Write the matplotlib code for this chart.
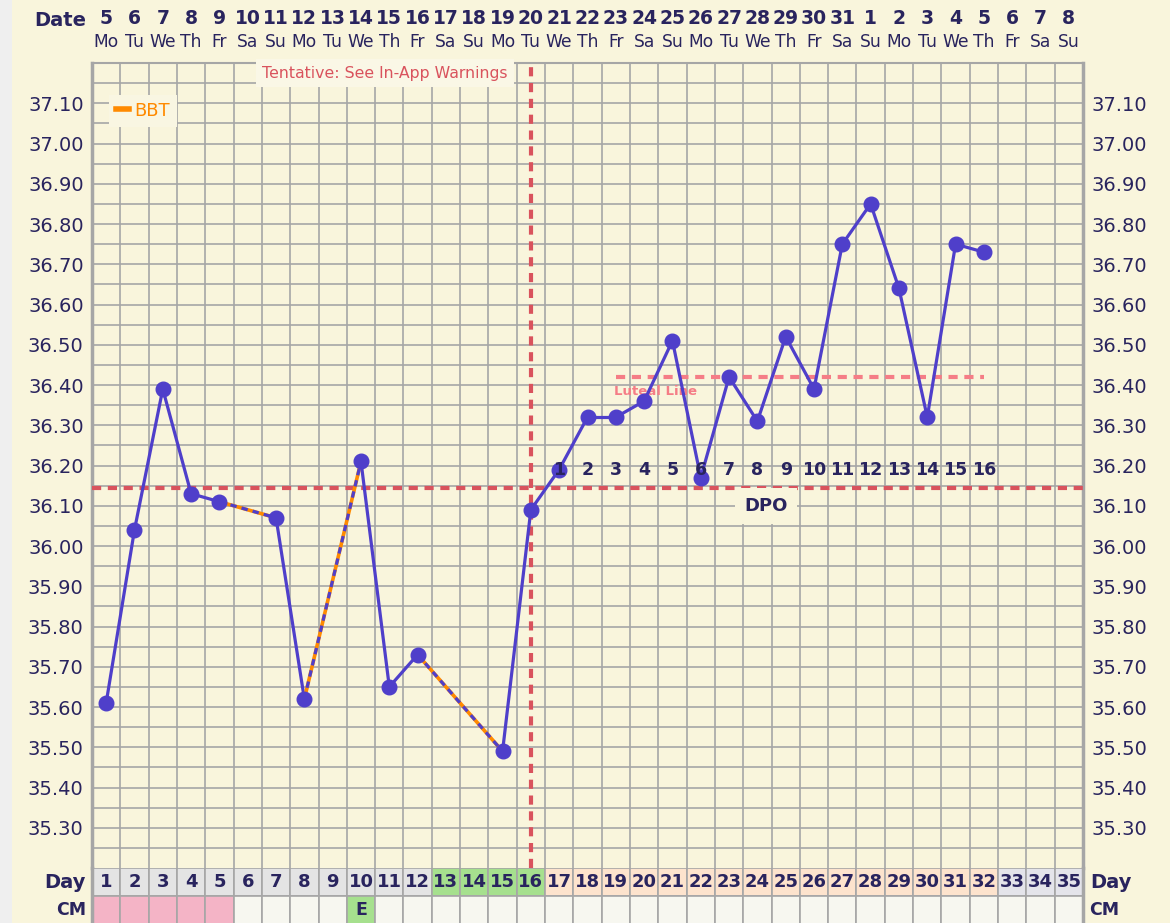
import numpy as np
import matplotlib.pyplot as plt
from matplotlib.patches import Rectangle
from matplotlib.lines import Line2D
from matplotlib.transforms import blended_transform_factory

# chart data
days = list(range(1, 36))
dates = list(range(5, 32)) + list(range(1, 9))
weekdays = ['Mo', 'Tu', 'We', 'Th', 'Fr', 'Sa', 'Su'] * 5

bbt_days = [1, 2, 3, 4, 5, 7, 8, 10, 11, 12, 15, 16, 17, 18, 19, 20, 21, 22,
            23, 24, 25, 26, 27, 28, 29, 30, 31, 32]
bbt_temps = [35.61, 36.04, 36.39, 36.13, 36.11, 36.07, 35.62, 36.21, 35.65, 35.73,
             35.49, 36.09, 36.19, 36.32, 36.32, 36.36, 36.51, 36.17, 36.42, 36.31,
             36.52, 36.39, 36.75, 36.85, 36.64, 36.32, 36.75, 36.73]

coverline = 36.145
ovulation_day = 16
luteal_temp = 36.42
luteal_days = [19, 32]
dpo_days = list(range(17, 33))
dpo_labels = [str(i) for i in range(1, 17)]

y_labels = np.round(np.arange(35.3, 37.11, 0.1), 2)

# day row / cm row colours
day_colors = (['#e4e4e4'] * 12 + ['#a6e08e'] * 4 + ['#fde3cd'] * 16 + ['#e4e4ea'] * 3)
cm_colors = (['#f4b4c6'] * 5 + ['#f7f7f0'] * 4 + ['#a6e08e'] + ['#f7f7f0'] * 25)
cm_text = {10: 'E'}

CREAM = '#f9f5dc'
NAVY = '#29245e'
PURPLE = '#4f3fca'
ORANGE = '#ff8a00'
RED = '#d9535d'
PINK = '#f57d86'
GRID = '#a6a6a6'

fig = plt.figure(figsize=(11.7, 9.23), dpi=100, facecolor=CREAM)
fig.patches.append(Rectangle((0, 0), 12 / 1170, 1, transform=fig.transFigure,
                             facecolor='#efefef', edgecolor='none'))

W, H = 1170, 923
L, R, T, B = 92, 1083, 63, 868
ax = fig.add_axes([L / W, 1 - B / H, (R - L) / W, (B - T) / H])
ax.set_facecolor(CREAM)
ax.set_xlim(0.5, 35.5)
ax.set_ylim(35.2, 37.2)

ax.set_xticks([])
ax.set_xticks(np.arange(0.5, 35.6, 1), minor=True)
ax.set_yticks(y_labels)
ax.set_yticklabels([f'{v:.2f}' for v in y_labels])
ax.set_yticks(np.round(np.arange(35.25, 37.2, 0.1), 2), minor=True)
ax.tick_params(axis='both', which='both', length=0)
ax.tick_params(axis='y', labelleft=True, labelright=True, labelsize=14,
               labelcolor=NAVY, pad=6)
ax.grid(True, which='both', color=GRID, lw=1.2, zorder=0)
ax.set_axisbelow(True)
for s in ['left', 'right']:
    ax.spines[s].set_color(GRID)
    ax.spines[s].set_linewidth(2.5)
ax.spines['top'].set_color(GRID)
ax.spines['top'].set_linewidth(1.5)
ax.spines['bottom'].set_visible(False)

# coverline, ovulation and luteal lines
ax.axhline(coverline, color=RED, lw=3, ls=(0, (2.2, 1.6)), zorder=3)
ax.axvline(ovulation_day, color=RED, lw=3, ls=(0, (2.2, 1.6)), zorder=3)
ax.plot(luteal_days, [luteal_temp] * 2, color=PINK, lw=3, ls=(0, (2.2, 1.6)), zorder=3)
ax.text(luteal_days[0] - 0.05, luteal_temp - 0.035, 'Luteal Line', color=PINK,
        fontsize=9.5, fontweight='bold', ha='left', va='center', zorder=3)

# temperature line
for d0, t0, d1, t1 in zip(bbt_days[:-1], bbt_temps[:-1], bbt_days[1:], bbt_temps[1:]):
    if d1 - d0 == 1:
        ax.plot([d0, d1], [t0, t1], color=PURPLE, lw=2.3, zorder=4, solid_capstyle='round')
    else:
        ax.plot([d0, d1], [t0, t1], color=ORANGE, lw=2.6, zorder=4)
        ax.plot([d0, d1], [t0, t1], color=PURPLE, lw=2.3, ls=(0, (2, 1.6)), zorder=4)
ax.plot(bbt_days, bbt_temps, 'o', ms=10.5, color=PURPLE, mec=PURPLE, zorder=5)

# DPO numbers
for d, lab in zip(dpo_days, dpo_labels):
    ax.text(d, 36.19, lab, color=NAVY, fontsize=12.5, fontweight='bold',
            ha='center', va='center', zorder=6)
ax.text(24.3, 36.1, 'DPO', color=NAVY, fontsize=13, fontweight='bold',
        ha='center', va='center', zorder=6,
        bbox=dict(boxstyle='square,pad=0.5', facecolor=CREAM, edgecolor='none'))

# tentative note
ax.text(10.85, 0.9875, 'Tentative: See In-App Warnings', color=RED, fontsize=11.3,
        ha='center', va='center', transform=blended_transform_factory(ax.transData, ax.transAxes),
        zorder=6, bbox=dict(boxstyle='square,pad=0.4', facecolor='#faf7e6', edgecolor='none'))

# legend
leg = ax.legend(handles=[Line2D([], [], color=ORANGE, lw=4)], labels=['BBT'],
                loc='upper left', bbox_to_anchor=(0.008, 0.972), handlelength=0.7,
                handletextpad=0.3, frameon=True, facecolor='#f9f6e2', edgecolor='none',
                fancybox=False, framealpha=1, fontsize=13, labelcolor=ORANGE,
                borderpad=0.4)
leg.set_zorder(7)

# date header
tr = blended_transform_factory(ax.transData, fig.transFigure)
for d, dt, wd in zip(days, dates, weekdays):
    fig.text(d, 1 - 18 / H, str(dt), transform=tr, ha='center', va='center',
             fontsize=13.5, fontweight='bold', color=NAVY)
    fig.text(d, 1 - 42 / H, wd, transform=tr, ha='center', va='center',
             fontsize=12.3, color=NAVY)
fig.text(86 / W, 1 - 20 / H, 'Date', ha='right', va='center', fontsize=14,
         fontweight='bold', color=NAVY)

# day / cm rows
ax2 = fig.add_axes([L / W, 0, (R - L) / W, 55 / H])
ax2.set_xlim(0.5, 35.5)
ax2.set_ylim(0, 55)
ax2.axis('off')
for d, dc, cc in zip(days, day_colors, cm_colors):
    ax2.add_patch(Rectangle((d - 0.5, 27), 1, 28, facecolor=dc, edgecolor=GRID, lw=1.2))
    ax2.add_patch(Rectangle((d - 0.5, -2), 1, 29, facecolor=cc, edgecolor=GRID, lw=1.2))
    ax2.text(d, 41, str(d), ha='center', va='center', fontsize=13,
             fontweight='bold', color=NAVY)
    if d in cm_text:
        ax2.text(d, 13, cm_text[d], ha='center', va='center', fontsize=12.5,
                 fontweight='bold', color=NAVY)
ax2.plot([0.5, 0.5], [0, 55], color=GRID, lw=2.5, clip_on=False)
ax2.plot([35.5, 35.5], [0, 55], color=GRID, lw=2.5, clip_on=False)
fig.text(86 / W, 1 - 882 / H, 'Day', ha='right', va='center', fontsize=14,
         fontweight='bold', color=NAVY)
fig.text(86 / W, 1 - 910 / H, 'CM', ha='right', va='center', fontsize=12.5,
         fontweight='bold', color=NAVY)
fig.text(1090 / W, 1 - 882 / H, 'Day', ha='left', va='center', fontsize=14,
         fontweight='bold', color=NAVY)
fig.text(1089 / W, 1 - 910 / H, 'CM', ha='left', va='center', fontsize=12.5,
         fontweight='bold', color=NAVY)

fig.savefig('out.png', dpi=100, facecolor=CREAM)
